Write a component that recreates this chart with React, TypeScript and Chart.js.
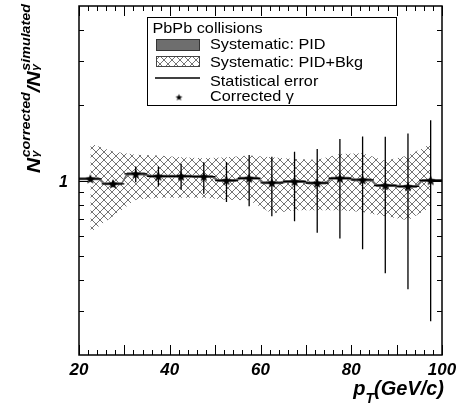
import React, { useEffect, useRef } from 'react';
import { Chart, registerables } from 'chart.js';

Chart.register(...registerables);

// ---------- data ----------
const ptCenters = [22.5, 27.5, 32.5, 37.5, 42.5, 47.5, 52.5, 57.5, 62.5, 67.5, 72.5, 77.5, 82.5, 87.5, 92.5, 97.5];
const ptHalfWidth = [2.5, 2.5, 2.5, 2.5, 2.5, 2.5, 2.5, 2.5, 2.5, 2.5, 2.5, 2.5, 2.5, 2.5, 2.5, 2.5];
const ratio = [1.016, 0.970, 1.063, 1.040, 1.040, 1.037, 1.000, 1.021, 0.979, 0.991, 0.977, 1.021, 1.006, 0.955, 0.947, 1.000];
const statHigh = [1.022, 1.000, 1.137, 1.137, 1.166, 1.183, 1.185, 1.264, 1.246, 1.305, 1.338, 1.466, 1.502, 1.497, 1.543, 1.745];
const statLow = [1.010, 0.940, 0.984, 0.946, 0.918, 0.885, 0.820, 0.788, 0.719, 0.686, 0.618, 0.586, 0.530, 0.425, 0.367, 0.273];
const sysPidRel = [0.014, 0.014, 0.014, 0.014, 0.014, 0.014, 0.014, 0.014, 0.014, 0.014, 0.014, 0.014, 0.014, 0.014, 0.014, 0.014];
const sysBkgHigh = [1.408, 1.308, 1.269, 1.258, 1.238, 1.229, 1.238, 1.258, 1.238, 1.220, 1.212, 1.278, 1.285, 1.201, 1.258, 1.400];
const sysBkgLow = [0.621, 0.719, 0.838, 0.853, 0.853, 0.853, 0.838, 0.833, 0.737, 0.760, 0.760, 0.760, 0.748, 0.719, 0.693, 0.783];

const xMin = 20;
const xMax = 100;
const yMin = 0.2;
const yMax = 5;
const xTickLabels = [20, 40, 60, 80, 100];
const xMajorTicks = [20, 30, 40, 50, 60, 70, 80, 90, 100];
const xMinorStep = 2;
const yTickLabels = [1];
const yMajorTicks = [1];
const yMinorTicks = [0.3, 0.4, 0.5, 0.6, 0.7, 0.8, 0.9, 2, 3, 4];

const legendTitle = 'PbPb collisions';
const legendLabels = ['Systematic: PID', 'Systematic: PID+Bkg', 'Statistical error', 'Corrected \u03b3'];

const SANS = "'Liberation Sans', Arial, Helvetica, sans-serif";
const PID_GREY = '#6e6e6e';
const HATCH_GREY = '#747474';

function makeStar(r: number, inner: number, color: string) {
  const size = Math.round(r * 2) + 2;
  const c = document.createElement('canvas');
  c.width = size;
  c.height = size;
  const g = c.getContext('2d')!;
  g.translate(size / 2, size / 2 + 0.5);
  g.beginPath();
  for (let i = 0; i < 10; i++) {
    const rad = i % 2 === 0 ? r : r * inner;
    const a = -Math.PI / 2 + (i * Math.PI) / 5;
    const px = rad * Math.cos(a);
    const py = rad * Math.sin(a);
    if (i === 0) g.moveTo(px, py);
    else g.lineTo(px, py);
  }
  g.closePath();
  g.fillStyle = color;
  g.fill();
  return c;
}

function makeHatch(ctx: CanvasRenderingContext2D) {
  const s = 8;
  const c = document.createElement('canvas');
  c.width = s;
  c.height = s;
  const g = c.getContext('2d')!;
  g.strokeStyle = HATCH_GREY;
  g.lineWidth = 1;
  g.beginPath();
  g.moveTo(-1, -1);
  g.lineTo(s + 1, s + 1);
  g.moveTo(s + 1, -1);
  g.lineTo(-1, s + 1);
  g.stroke();
  return ctx.createPattern(c, 'repeat')!;
}

function drawStretched(ctx: CanvasRenderingContext2D, text: string, x: number, y: number, sx: number) {
  ctx.save();
  ctx.translate(x, y);
  ctx.scale(sx, 1);
  ctx.fillText(text, 0, 0);
  ctx.restore();
}

const STAR_INDEX = 4;

export default function App() {
  const ref = useRef<HTMLCanvasElement | null>(null);

  useEffect(() => {
    const canvas = ref.current!;
    const ctx0 = canvas.getContext('2d')!;
    const hatch = makeHatch(ctx0);
    const star = makeStar(5.2, 0.45, '#000');
    const legendStar = makeStar(3.6, 0.45, '#000');

    const n = ptCenters.length;
    const bkgUpper = ptCenters.map((x, i) => ({ x, y: sysBkgHigh[i] }));
    const bkgLower = ptCenters.map((x, i) => ({ x, y: sysBkgLow[i] }));
    const pidUpper: { x: number; y: number }[] = [];
    const pidLower: { x: number; y: number }[] = [];
    ptCenters.forEach((x, i) => {
      const l = i === 0 ? x - ptHalfWidth[i] : x - ptHalfWidth[i] + 0.6;
      const r = i === n - 1 ? x + ptHalfWidth[i] : x + ptHalfWidth[i] - 0.6;
      const hi = ratio[i] * (1 + sysPidRel[i]);
      const lo = ratio[i] * (1 - sysPidRel[i]);
      pidUpper.push({ x: l, y: hi }, { x: r, y: hi });
      pidLower.push({ x: l, y: lo }, { x: r, y: lo });
    });
    const stars = ptCenters.map((x, i) => ({ x, y: ratio[i] }));

    const decor = {
      id: 'decor',
      beforeDatasetDraw(chart: any, args: any) {
        if (args.index !== STAR_INDEX) return;
        const ctx: CanvasRenderingContext2D = chart.ctx;
        const xs = chart.scales.x;
        const ys = chart.scales.y;
        ctx.save();
        ctx.strokeStyle = '#000';
        ctx.lineWidth = 1.3;
        ctx.beginPath();
        ptCenters.forEach((x, i) => {
          const px = xs.getPixelForValue(x);
          const py = ys.getPixelForValue(ratio[i]);
          ctx.moveTo(px, ys.getPixelForValue(statHigh[i]));
          ctx.lineTo(px, ys.getPixelForValue(statLow[i]));
          ctx.moveTo(xs.getPixelForValue(x - ptHalfWidth[i]), py);
          ctx.lineTo(xs.getPixelForValue(x + ptHalfWidth[i]), py);
        });
        ctx.stroke();
        ctx.restore();
      },
      afterDraw(chart: any) {
        const ctx: CanvasRenderingContext2D = chart.ctx;
        const { left, right, top, bottom } = chart.chartArea;
        const xs = chart.scales.x;
        const ys = chart.scales.y;
        ctx.save();
        // ticks
        ctx.strokeStyle = '#000';
        ctx.lineWidth = 1;
        ctx.beginPath();
        for (let v = xMin; v <= xMax + 1e-9; v += xMinorStep) {
          const px = Math.round(xs.getPixelForValue(v)) + 0.5;
          const len = xMajorTicks.includes(v) ? 10 : 5;
          ctx.moveTo(px, bottom);
          ctx.lineTo(px, bottom - len);
          ctx.moveTo(px, top);
          ctx.lineTo(px, top + len);
        }
        const yt = [...yMajorTicks.map((v) => [v, 9]), ...yMinorTicks.map((v) => [v, 5])];
        yt.forEach(([v, len]) => {
          const py = Math.round(ys.getPixelForValue(v)) + 0.5;
          ctx.moveTo(left, py);
          ctx.lineTo(left + len, py);
          ctx.moveTo(right, py);
          ctx.lineTo(right - len, py);
        });
        ctx.stroke();
        // frame
        ctx.lineWidth = 1.5;
        ctx.strokeRect(left, top, right - left, bottom - top);

        // legend
        ctx.fillStyle = '#fff';
        ctx.fillRect(147.5, 17.5, 249, 88);
        ctx.lineWidth = 1;
        ctx.strokeStyle = '#000';
        ctx.strokeRect(147.5, 17.5, 249, 88);
        ctx.fillStyle = '#000';
        ctx.font = `14.5px ${SANS}`;
        ctx.textBaseline = 'alphabetic';
        ctx.textAlign = 'left';
        drawStretched(ctx, legendTitle, 152.5, 33, 1.12);
        ctx.fillStyle = PID_GREY;
        ctx.fillRect(156, 39, 44, 12);
        ctx.strokeStyle = '#333';
        ctx.strokeRect(156.5, 39.5, 43, 11);
        ctx.fillStyle = '#fff';
        ctx.fillRect(156, 56, 44, 11);
        ctx.fillStyle = hatch;
        ctx.fillRect(156, 56, 44, 11);
        ctx.strokeStyle = '#444';
        ctx.strokeRect(156.5, 56.5, 43, 10);
        ctx.strokeStyle = '#000';
        ctx.lineWidth = 1.3;
        ctx.beginPath();
        ctx.moveTo(155, 78);
        ctx.lineTo(200, 78);
        ctx.stroke();
        ctx.drawImage(legendStar, 179 - legendStar.width / 2, 97 - legendStar.height / 2);
        ctx.fillStyle = '#000';
        drawStretched(ctx, legendLabels[0], 210, 48.5, 1.12);
        drawStretched(ctx, legendLabels[1], 210, 66.5, 1.12);
        drawStretched(ctx, legendLabels[2], 210, 86, 1.12);
        drawStretched(ctx, legendLabels[3], 210, 100.5, 1.12);

        // y title (rotated)
        ctx.save();
        ctx.translate(40, 173);
        ctx.rotate(-Math.PI / 2);
        ctx.scale(1.1, 1);
        const big = `italic bold 19px ${SANS}`;
        const sup = `italic bold 13px ${SANS}`;
        const sub = `italic bold 11px ${SANS}`;
        let cx = 0;
        ctx.font = big;
        ctx.fillText('N', cx, 0);
        cx += ctx.measureText('N').width + 0.5;
        ctx.font = sub;
        ctx.fillText('\u03b3', cx, -1);
        ctx.font = sup;
        ctx.fillText('corrected', cx, -10);
        cx += ctx.measureText('corrected').width;
        ctx.font = big;
        ctx.fillText('/N', cx, 0);
        cx += ctx.measureText('/N').width + 0.5;
        ctx.font = sub;
        ctx.fillText('\u03b3', cx, -1);
        ctx.font = sup;
        ctx.fillText('simulated', cx, -10);
        ctx.restore();

        // x title
        const f1 = `italic bold 20px ${SANS}`;
        const f2 = `italic bold 14px ${SANS}`;
        ctx.font = f1;
        const wRest = ctx.measureText('(GeV/c)').width;
        const wp = ctx.measureText('p').width;
        ctx.font = f2;
        const wt = ctx.measureText('T').width;
        let tx = 444 - wRest - wt - wp;
        ctx.font = f1;
        ctx.fillText('p', tx, 395);
        tx += wp;
        ctx.font = f2;
        ctx.fillText('T', tx, 403);
        tx += wt;
        ctx.font = f1;
        ctx.fillText('(GeV/c)', tx, 395);
        ctx.restore();
      },
    };

    const chart = new Chart(canvas, {
      type: 'line',
      data: {
        datasets: [
          { data: bkgUpper, borderColor: 'rgba(0,0,0,0)', borderWidth: 0, pointRadius: 0, fill: false, order: 3 },
          { data: bkgLower, borderColor: 'rgba(0,0,0,0)', borderWidth: 0, pointRadius: 0, fill: '-1', backgroundColor: hatch, order: 3 },
          { data: pidUpper, borderColor: 'rgba(0,0,0,0)', borderWidth: 0, pointRadius: 0, fill: false, order: 2 },
          { data: pidLower, borderColor: 'rgba(0,0,0,0)', borderWidth: 0, pointRadius: 0, fill: '-1', backgroundColor: PID_GREY, order: 2 },
          { data: stars, showLine: false, pointStyle: star as any, pointRadius: 5, order: 1 },
        ] as any,
      },
      options: {
        responsive: false,
        animation: false,
        devicePixelRatio: 1,
        events: [],
        layout: { padding: { left: 0, right: 19, top: 4, bottom: 0 } },
        plugins: { legend: { display: false }, tooltip: { enabled: false } },
        scales: {
          x: {
            type: 'linear',
            min: xMin,
            max: xMax,
            grid: { display: false, drawTicks: false },
            border: { display: false },
            afterBuildTicks: (s: any) => {
              s.ticks = xTickLabels.map((v) => ({ value: v }));
            },
            afterFit: (s: any) => {
              s.height = 49;
              s.paddingLeft = 0;
              s.paddingRight = 0;
            },
            ticks: {
              padding: 5,
              color: '#000',
              maxRotation: 0,
              autoSkip: false,
              font: { family: SANS, size: 17, style: 'italic', weight: 'bold' },
              callback: (v: any) => String(v),
            },
          },
          y: {
            type: 'logarithmic',
            min: yMin,
            max: yMax,
            grid: { display: false, drawTicks: false },
            border: { display: false },
            afterBuildTicks: (s: any) => {
              s.ticks = yTickLabels.map((v) => ({ value: v }));
            },
            afterFit: (s: any) => {
              s.width = 79;
              s.paddingTop = 0;
              s.paddingBottom = 0;
            },
            ticks: {
              padding: 11,
              color: '#000',
              labelOffset: 2,
              font: { family: SANS, size: 16, style: 'italic', weight: 'bold' },
              callback: (v: any) => String(v),
            },
          },
        } as any,
      },
      plugins: [decor as any],
    });
    return () => chart.destroy();
  }, []);

  return (
    <div style={{ position: 'fixed', left: 0, top: 0, width: 461, height: 404, background: '#fff' }}>
      <canvas ref={ref} width={461} height={404} style={{ display: 'block', width: 461, height: 404 }} />
    </div>
  );
}
